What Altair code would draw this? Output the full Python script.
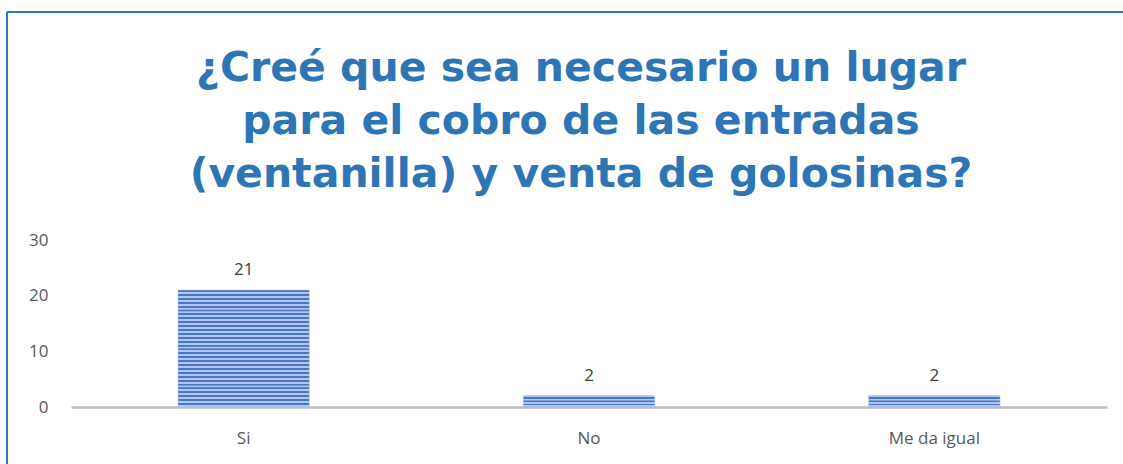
import altair as alt
import pandas as pd

categories = ["Si", "No", "Me da igual"]
values = [21, 2, 2]
y_ticks = [0, 10, 20, 30]
title_lines = ["¿Creé que sea necesario un lugar",
               "para el cobro de las entradas",
               "(ventanilla) y venta de golosinas?"]

df = pd.DataFrame({"cat": categories, "val": values})

# striped fill (style only)
n = 30
stops = []
for i in range(n):
    a = i / n
    b = (i + 0.5) / n
    stops.append({"offset": a, "color": "#4A76C8"})
    stops.append({"offset": b - 0.001, "color": "#4A76C8"})
    stops.append({"offset": b, "color": "#B2C6EE"})
    stops.append({"offset": (i + 1) / n - 0.001, "color": "#B2C6EE"})
stripes = {"gradient": "linear", "x1": 0, "y1": 0, "x2": 0, "y2": 1, "stops": stops}

W, H = 1036, 167

x = alt.X("cat:N", sort=categories, title=None,
          scale=alt.Scale(paddingInner=0.62, paddingOuter=0.31),
          axis=alt.Axis(labelAngle=0, labelFontSize=17, labelColor="#595959",
                        labelFont="Open Sans", domainColor="#BFBFBF", domainWidth=2.5,
                        ticks=False, labelPadding=23))
y = alt.Y("val:Q", title=None,
          scale=alt.Scale(domain=[0, 30]),
          axis=alt.Axis(values=y_ticks, labelFontSize=17, labelColor="#595959",
                        labelFont="Open Sans", domain=False, ticks=False, grid=False,
                        labelPadding=23))

bars = alt.Chart(df).mark_bar(fill=stripes, stroke="#9DB5E6", strokeWidth=0.5).encode(x=x, y=y)
labels = alt.Chart(df).mark_text(dy=-20, fontSize=17, color="#404040", font="Open Sans").encode(
    x=alt.X("cat:N", sort=categories), y="val:Q", text="val:Q")

border_top = alt.Chart(df).mark_rule(color="#2E75B6", strokeWidth=2).encode(
    x=alt.value(-64), x2=alt.value(W + 100), y=alt.value(-228))
border_left = alt.Chart(df).mark_rule(color="#2E75B6", strokeWidth=2).encode(
    x=alt.value(-64), y=alt.value(-228), y2=alt.value(H + 100))

chart = alt.layer(border_top, border_left, bars, labels).properties(
    width=W, height=H,
    background="white",
    title=alt.TitleParams(title_lines, anchor="middle", frame="group", fontSize=41,
                          font="DejaVu Sans", fontWeight="bold", color="#2E75B6",
                          lineHeight=53, offset=-185, dx=-8),
    autosize=alt.AutoSizeParams(type="none"),
    padding={"left": 71, "top": 240, "right": 16, "bottom": 57},
).configure_view(strokeWidth=0, stroke=None)

chart.save("out.html", embed_options={"renderer": "svg", "actions": False})
